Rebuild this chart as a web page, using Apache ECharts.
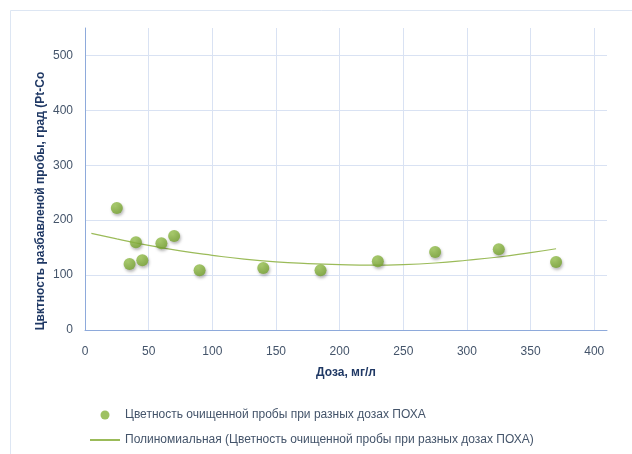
<!DOCTYPE html>
<html><head><meta charset="utf-8">
<script src="https://cdn.jsdelivr.net/npm/echarts@6/dist/echarts.min.js"></script>
<style>html,body{margin:0;padding:0;background:#fff}#c{width:632px;height:454px}</style>
</head><body><div id="c"></div>
<script>
const doseX = [25, 35, 40, 45, 60, 70, 90, 140, 185, 230, 275, 325, 370];
const colorY = [222, 120, 160, 127, 158, 171, 109, 113, 109, 125, 142, 147, 124];
const trendX = [5, 25, 50, 75, 100, 125, 150, 175, 200, 225, 250, 275, 300, 325, 350, 370];
const trendY = [176, 166, 154, 144, 136, 129, 124, 121, 119, 118, 119, 122, 127, 133, 141, 148];
const xTicks = [0, 50, 100, 150, 200, 250, 300, 350, 400];
const yTicks = [0, 100, 200, 300, 400, 500];
const seriesName = 'Цветность очищенной пробы при разных дозах ПОХА';
const trendName = 'Полиномиальная (Цветность очищенной пробы при разных дозах ПОХА)';
const yName = 'Цвктность разбавленой пробы, град (Pt-Co';
const xName = 'Доза, мг/л';

const chart = echarts.init(document.getElementById('c'), null, {renderer: 'canvas'});
const font = 'Liberation Sans, Arial, sans-serif';
chart.setOption({
  animation: false,
  backgroundColor: '#fff',
  graphic: [
    {type: 'rect', shape: {x: 10.5, y: 10.5, width: 640, height: 460}, style: {fill: 'none', stroke: '#dde6f3', lineWidth: 1}, silent: true},
    {type: 'text', x: 41, y: 201, rotation: Math.PI / 2,
     style: {text: yName, font: 'bold 12px ' + font, fill: '#1f3864', textAlign: 'center', textVerticalAlign: 'middle'}}
  ],
  grid: {left: 85, right: 25, top: 28, bottom: 124, containLabel: false},
  xAxis: {
    type: 'value', min: 0, max: 410, interval: 50,
    name: xName, nameLocation: 'middle', nameGap: 37,
    nameTextStyle: {fontFamily: font, fontWeight: 'bold', fontSize: 12, color: '#1f3864'},
    axisLine: {show: true, lineStyle: {color: '#8eaadb', width: 1}},
    axisTick: {show: false},
    axisLabel: {color: '#44546a', fontFamily: font, fontSize: 12, margin: 16, showMaxLabel: false,
      formatter: v => xTicks.includes(v) ? String(v) : ''},
    splitLine: {show: true, showMaxLine: false, lineStyle: {color: '#d9e2f3', width: 1}}
  },
  yAxis: {
    type: 'value', min: 0, max: 550, interval: 100,
    axisLine: {show: true, lineStyle: {color: '#8eaadb', width: 1}},
    axisTick: {show: false},
    axisLabel: {color: '#44546a', fontFamily: font, fontSize: 12, margin: 12, showMaxLabel: false,
      formatter: v => yTicks.includes(v) ? String(v) : ''},
    splitLine: {show: true, showMaxLine: false, lineStyle: {color: '#d9e2f3', width: 1}}
  },
  legend: {
    orient: 'vertical', left: 84, top: 404, itemGap: 13, itemWidth: 30, itemHeight: 9,
    textStyle: {color: '#44546a', fontFamily: font, fontSize: 12},
    data: [
      {name: seriesName, icon: 'circle', itemStyle: {color: '#86b23a'}},
      {name: trendName, itemStyle: {opacity: 0}}
    ]
  },
  series: [
    {
      name: trendName, type: 'line', smooth: true, symbol: 'none', z: 2,
      data: trendX.map((x, i) => [x, trendY[i]]),
      lineStyle: {color: '#9bbb59', width: 1.2}, itemStyle: {color: '#9bbb59'}
    },
    {
      name: seriesName, type: 'scatter', symbol: 'circle', symbolSize: 12, z: 3,
      data: doseX.map((x, i) => [x, colorY[i]]),
      itemStyle: {
        color: new echarts.graphic.RadialGradient(0.4, 0.35, 0.7, [
          {offset: 0, color: '#9cc653'}, {offset: 1, color: '#74a22c'}]),
        shadowColor: 'rgba(0,0,0,0.35)', shadowBlur: 3, shadowOffsetX: 1, shadowOffsetY: 2
      }
    }
  ]
});
</script></body></html>
